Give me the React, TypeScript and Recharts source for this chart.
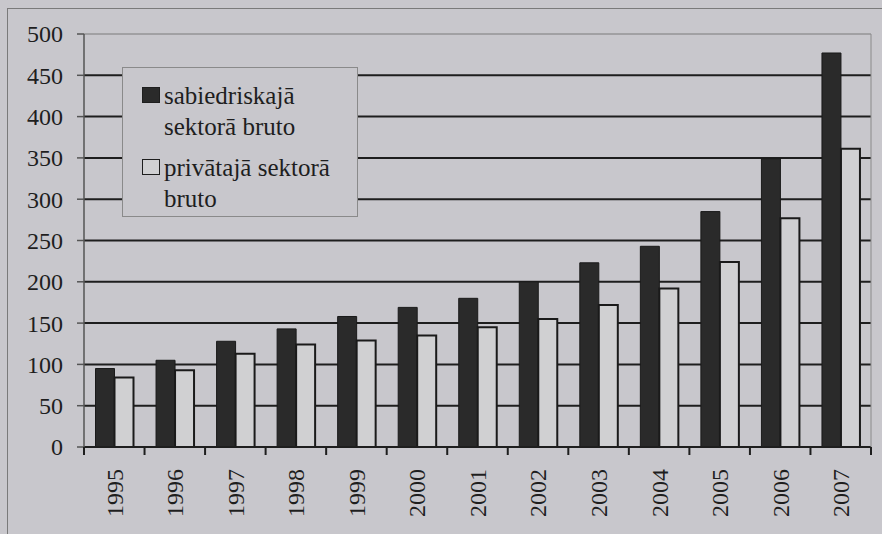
import { BarChart, Bar, XAxis, YAxis, CartesianGrid, Legend, ReferenceLine } from "recharts";

const YEARS = ["1995", "1996", "1997", "1998", "1999", "2000", "2001", "2002", "2003", "2004", "2005", "2006", "2007"];
const PUBLIC_GROSS = [95, 105, 128, 143, 158, 169, 180, 200, 223, 243, 285, 349, 477];
const PRIVATE_GROSS = [84, 93, 113, 124, 129, 135, 145, 155, 172, 192, 224, 277, 361];
const Y_TICKS = [0, 50, 100, 150, 200, 250, 300, 350, 400, 450, 500];
const GRID_VALUES = [50, 100, 150, 200, 250, 300, 350, 400, 450];
const SERIES_ORDER = ["pub", "priv"];

const data = YEARS.map((year, i) => ({
  year,
  pub: PUBLIC_GROSS[i],
  priv: PRIVATE_GROSS[i],
}));

const BG = "#c8c7cc";
const DARK = "#2a2a2a";
const LIGHT = "#d0d0d2";
const INK = "#1e1e1e";
const FONT = "'Liberation Serif', 'Times New Roman', serif";

// category label, rotated, plus the tick marks at the band edges
function YearTick({ x, y, payload, index, visibleTicksCount }: any) {
  const half = payload && typeof payload.offset === "number" && payload.offset > 0 ? payload.offset : 30.27;
  const isLast = index === (visibleTicksCount ?? YEARS.length) - 1;
  return (
    <g>
      <line x1={x - half} x2={x - half} y1={y} y2={y + 8} stroke={INK} strokeWidth={2} />
      {isLast && <line x1={x + half} x2={x + half} y1={y} y2={y + 8} stroke={INK} strokeWidth={2} />}
      <text
        x={x}
        y={y + 22}
        transform={`rotate(-90, ${x}, ${y + 22})`}
        textAnchor="end"
        dy="0.35em"
        fill={INK}
        fontSize={24}
        fontFamily={FONT}
      >
        {payload.value}
      </text>
    </g>
  );
}

function ValueTick({ x, y, payload }: any) {
  return (
    <text x={x} y={y} textAnchor="end" dy="0.35em" fill={INK} fontSize={24} fontFamily={FONT}>
      {payload.value}
    </text>
  );
}

function LegendBox({ payload }: any) {
  const items = [...(payload || [])].sort(
    (a: any, b: any) => SERIES_ORDER.indexOf(a.dataKey) - SERIES_ORDER.indexOf(b.dataKey)
  );
  return (
    <div
      style={{
        width: 236,
        height: 150,
        boxSizing: "border-box",
        background: BG,
        border: "1px solid #8a8a8a",
        padding: "12px 0 0 19px",
        fontFamily: FONT,
        fontSize: 25,
        lineHeight: "31px",
        color: INK,
      }}
    >
      {items.map((item: any, i: number) => (
        <div key={i} style={{ display: "flex", alignItems: "flex-start", marginBottom: 10 }}>
          <span
            style={{
              display: "inline-block",
              width: 18,
              height: 16,
              marginTop: 7,
              marginRight: 4,
              boxSizing: "border-box",
              background: item.color,
              border: `1.5px solid ${INK}`,
              flexShrink: 0,
            }}
          />
          <span style={{ width: 190, fontFamily: FONT }}>{item.value}</span>
        </div>
      ))}
    </div>
  );
}

export default function App() {
  return (
    <div
      style={{
        position: "absolute",
        left: 0,
        top: 0,
        width: 882,
        height: 534,
        background: BG,
        overflow: "hidden",
      }}
    >
      <div
        style={{
          position: "absolute",
          left: 7,
          top: 8,
          width: 874,
          height: 600,
          borderTop: "1px solid #7a7a7a",
          borderLeft: "1px solid #7a7a7a",
          borderRight: "1px solid #7a7a7a",
        }}
      />
      <BarChart
        width={882}
        height={534}
        data={data}
        margin={{ top: 34, right: 0, left: 0, bottom: 0 }}
        barCategoryGap="19%"
        barGap={0}
        style={{ position: "absolute", left: 0, top: 0 }}
      >
        <CartesianGrid vertical={false} horizontalValues={GRID_VALUES} stroke={INK} strokeWidth={2} />
        <XAxis
          dataKey="year"
          height={87}
          axisLine={{ stroke: INK, strokeWidth: 2 }}
          tickLine={false}
          tickSize={0}
          tickMargin={0}
          interval={0}
          tick={<YearTick />}
        />
        <YAxis
          width={84}
          domain={[0, 500]}
          ticks={Y_TICKS}
          interval={0}
          tickSize={7}
          tickMargin={14}
          axisLine={{ stroke: "#555", strokeWidth: 1.5 }}
          tickLine={{ stroke: "#555", strokeWidth: 1.5 }}
          tick={<ValueTick />}
        />
        <YAxis
          yAxisId="frame"
          orientation="right"
          width={11}
          domain={[0, 500]}
          tick={false}
          tickLine={false}
          axisLine={{ stroke: "#8a8a8a", strokeWidth: 1 }}
        />
        <ReferenceLine y={500} stroke="#7a7a7a" strokeWidth={1} />
        <Legend
          layout="horizontal"
          align="center"
          verticalAlign="middle"
          content={<LegendBox />}
          wrapperStyle={{ left: 122, top: 67, width: 236 }}
        />
        <Bar
          dataKey="pub"
          name="sabiedriskajā sektorā bruto"
          fill={DARK}
          stroke="#1a1a1a"
          strokeWidth={1}
          isAnimationActive={false}
        />
        <Bar
          dataKey="priv"
          name="privātajā sektorā bruto"
          fill={LIGHT}
          stroke="#1a1a1a"
          strokeWidth={2}
          isAnimationActive={false}
        />
      </BarChart>
    </div>
  );
}
